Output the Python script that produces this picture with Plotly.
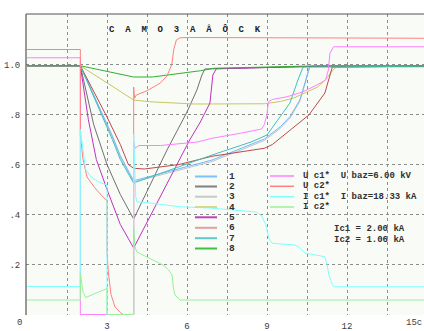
import plotly.graph_objects as go

# ---------------- data (time in s, values in p.u.) ----------------
t1 = [0, 2, 3.2, 3.5, 4, 6.94, 8.9, 9.5, 9.86, 10.23, 10.42, 10.6, 14.9]
v1 = [0.995, 0.995, 0.715, 0.635, 0.535, 0.618, 0.702, 0.751, 0.791, 0.858, 0.926, 0.993, 0.993]

t2 = [0, 2, 2.5, 3.0, 3.5, 4, 5.25, 6.0, 6.37, 6.56, 6.67, 9.0, 11, 14.9]
v2 = [0.995, 0.995, 0.76, 0.6, 0.48, 0.382, 0.658, 0.81, 0.898, 0.958, 0.982, 0.988, 0.993, 0.993]

t3 = [0, 2, 3.2, 3.5, 4, 6.94, 8.9, 9.5, 9.86, 10.23, 10.42, 10.6, 14.9]
v3 = [0.995, 0.995, 0.71, 0.63, 0.53, 0.612, 0.696, 0.745, 0.785, 0.852, 0.92, 0.99, 0.99]

t4 = [0, 2, 4, 4.6, 6.3, 8.9, 9.5, 10.0, 10.5, 10.9, 11.2, 11.45, 11.6, 14.9]
v4 = [0.995, 0.995, 0.858, 0.851, 0.842, 0.843, 0.852, 0.866, 0.89, 0.91, 0.94, 0.975, 0.99, 0.993]

t5 = [0, 2, 2.3, 2.6, 3.0, 3.5, 4, 6.1, 6.5, 6.86, 6.97, 7.1, 9.0, 11, 14.9]
v5 = [0.995, 0.995, 0.78, 0.62, 0.5, 0.36, 0.266, 0.698, 0.77, 0.846, 0.958, 0.983, 0.988, 0.993, 0.993]

t6 = [0, 2, 3, 3.5, 3.8, 4, 4.4, 5.7, 6.94, 8.9, 9.2, 9.95, 10.57, 11.17, 11.36, 11.45, 14.9]
v6 = [0.995, 0.995, 0.79, 0.68, 0.6, 0.585, 0.582, 0.6, 0.633, 0.665, 0.68, 0.746, 0.798, 0.886, 0.95, 0.99, 0.993]

t7 = [0, 2, 3.2, 3.5, 4, 4.1, 6.94, 8.4, 9.0, 9.5, 9.86, 10.16, 10.35, 14.9]
v7 = [0.995, 0.995, 0.70, 0.62, 0.525, 0.53, 0.638, 0.69, 0.718, 0.791, 0.846, 0.938, 0.99, 0.993]

t8 = [0, 2, 4, 4.7, 6.5, 7.0, 9.0, 11, 14.9]
v8 = [0.995, 0.995, 0.95, 0.95, 0.975, 0.985, 0.99, 0.995, 0.995]

t_uc1 = [0, 2, 2, 4, 4, 4.05, 4.2, 5.0, 6.4, 6.94, 8.0, 8.8, 8.9, 9.0, 9.05, 9.2, 9.75, 10.35, 10.87, 11.2, 11.3, 11.36, 11.5, 14.9]
v_uc1 = [1.027, 1.027, 0, 0, 0.69, 0.665, 0.676, 0.676, 0.69, 0.705, 0.725, 0.742, 0.76, 0.80, 0.85, 0.86, 0.871, 0.891, 0.918, 0.938, 0.978, 1.045, 1.071, 1.071]

t_uc2 = [0, 2, 2, 2.1, 2.25, 2.55, 2.85, 3.0, 3.0, 3.05, 3.15, 3.3, 3.5, 3.6, 4.0, 4.0, 4.03, 4.1, 4.5, 5.0, 5.25, 5.43, 5.5, 5.6, 5.74, 6.1, 14.9]
v_uc2 = [1.06, 1.06, 0.72, 0.62, 0.55, 0.506, 0.47, 0.455, 0.25, 0.17, 0.08, 0.03, 0.008, 0, 0, 0.91, 0.865, 0.878, 0.895, 0.926, 0.955, 1.0, 1.058, 1.098, 1.107, 1.108, 1.105]

t_ic1 = [0, 2, 2, 2.05, 2.1, 2.2, 2.4, 2.7, 3.0, 3.0, 4.0, 4.0, 4.08, 4.12, 4.6, 5.74, 6.86, 7.6, 8.6, 8.8, 8.95, 9.07, 9.19, 10.05, 10.25, 10.42, 11.17, 11.25, 11.32, 11.45, 11.51, 14.9]
v_ic1 = [0.112, 0.112, 0.74, 0.70, 0.64, 0.58, 0.55, 0.53, 0.518, 0, 0, 0.72, 0.47, 0.451, 0.446, 0.431, 0.426, 0.418, 0.41, 0.395, 0.36, 0.305, 0.285, 0.278, 0.265, 0.246, 0.231, 0.2, 0.158, 0.12, 0.111, 0.111]

t_ic2 = [0, 2, 2, 2.1, 2.2, 2.3, 2.6, 2.95, 3.0, 3.0, 4.0, 4.0, 4.05, 4.12, 4.35, 4.72, 5.1, 5.3, 5.44, 5.5, 5.55, 5.74, 14.9]
v_ic2 = [0.058, 0.058, 0.165, 0.09, 0.068, 0.072, 0.086, 0.102, 0.107, 0, 0, 0.35, 0.27, 0.25, 0.238, 0.218, 0.198, 0.18, 0.158, 0.1, 0.078, 0.058, 0.058]

legend_names = ["1", "2", "3", "4", "5", "6", "7", "8"]
legend2_names = ["U c1*  U baz=6.00 kV", "U c2*", "I c1*  I baz=18.33 kA", "I c2*"]
notes = ["Ic1 = 2.00 kA", "Ic2 = 1.06 kA"]
title_text = "C  A  M  O  3  A  Â  Ô  C  K"
x_tickvals = [1.5, 3, 4.5, 6, 7.5, 9, 10.5, 12, 13.5]
x_ticktext = ["", "3", "", "6", "", "9", "", "12", ""]
y_tickvals = [0, 0.2, 0.4, 0.6, 0.8, 1.0]
y_ticktext = ["", ".2", ".4", ".6", ".8", "1.0"]

# ---------------- styles ----------------
W, H = 424, 331
ML, MR, MT, MB = 26, 0, 14, 16
PW, PH = W - ML - MR, H - MT - MB


def px(x):
    return (x - ML) / PW


def py(y):
    return (H - MB - y) / PH


curve_colors = ["#70b8ff", "#707070", "#c4c4c4", "#c8c860", "#c030c0", "#c04848", "#40c0c0", "#30b030"]
legend_colors = ["#80c0ff", "#808080", "#c8c8c8", "#d8d890", "#c040c0", "#e0a0a0", "#60c8c8", "#40c040"]
uc_colors = ["#ff80ff", "#ff8080", "#80ffff", "#98f098"]
FONT = "Liberation Mono, DejaVu Sans Mono, monospace"

fig = go.Figure()

series = [(t3, v3, 2), (t1, v1, 0), (t2, v2, 1), (t4, v4, 3), (t5, v5, 4), (t6, v6, 5), (t7, v7, 6), (t8, v8, 7)]
for tt, vv, i in series:
    fig.add_trace(go.Scatter(x=tt, y=vv, mode="lines", line=dict(color=curve_colors[i], width=1),
                             name=legend_names[i], showlegend=False, hoverinfo="skip"))

for tt, vv, c, n in [(t_uc1, v_uc1, uc_colors[0], legend2_names[0]),
                     (t_uc2, v_uc2, uc_colors[1], legend2_names[1]),
                     (t_ic1, v_ic1, uc_colors[2], legend2_names[2]),
                     (t_ic2, v_ic2, uc_colors[3], legend2_names[3])]:
    fig.add_trace(go.Scatter(x=tt, y=vv, mode="lines", line=dict(color=c, width=1),
                             name=n, showlegend=False, hoverinfo="skip"))

shapes = []
annotations = []

# borders (top and left)
shapes.append(dict(type="line", xref="paper", yref="paper", x0=0, x1=1, y0=1, y1=1,
                   line=dict(color="#555555", width=1.2)))
shapes.append(dict(type="line", xref="paper", yref="paper", x0=0, x1=0, y0=0, y1=1,
                   line=dict(color="#555555", width=1.2)))

# legend 1
rows1 = [176.5, 186.5, 196.7, 207, 217.3, 227.8, 238.2, 248.5]
for i, yy in enumerate(rows1):
    shapes.append(dict(type="line", xref="paper", yref="paper", x0=px(195), x1=px(217), y0=py(yy), y1=py(yy),
                       line=dict(color=legend_colors[i], width=2)))
    annotations.append(dict(xref="paper", yref="paper", x=px(227), y=py(yy), text=legend_names[i],
                            showarrow=False, xanchor="left", yanchor="middle",
                            font=dict(family=FONT, size=9.5, color="#303030", weight="bold")))

# legend 2
rows2 = [176, 186.3, 196.7, 207]
for i, yy in enumerate(rows2):
    shapes.append(dict(type="line", xref="paper", yref="paper", x0=px(270), x1=px(294), y0=py(yy), y1=py(yy),
                       line=dict(color=uc_colors[i], width=1.5)))
    annotations.append(dict(xref="paper", yref="paper", x=px(301), y=py(yy), text=legend2_names[i].replace(" ", "&nbsp;"),
                            showarrow=False, xanchor="left", yanchor="middle",
                            font=dict(family=FONT, size=9, color="#303030", weight="bold")))

for i, (txt, yy) in enumerate(zip(notes, [229, 239.5])):
    annotations.append(dict(xref="paper", yref="paper", x=px(332), y=py(yy), text=txt.replace(" ", "&nbsp;"),
                            showarrow=False, xanchor="left", yanchor="middle",
                            font=dict(family=FONT, size=9, color="#303030", weight="bold")))

# title
annotations.append(dict(xref="paper", yref="paper", x=px(184.5), y=py(29), text=title_text.replace(" ", "&nbsp;"),
                        showarrow=False, xanchor="center", yanchor="middle",
                        font=dict(family=FONT, size=9, color="#202020", weight="bold")))

# extra x labels
annotations.append(dict(xref="paper", yref="paper", x=px(19), y=py(323), text="0", showarrow=False,
                        xanchor="center", yanchor="middle", font=dict(family=FONT, size=9, color="#404040")))
annotations.append(dict(xref="paper", yref="paper", x=px(414), y=py(323), text="15c", showarrow=False,
                        xanchor="center", yanchor="middle", font=dict(family=FONT, size=9, color="#404040")))

fig.update_layout(
    width=W, height=H,
    margin=dict(l=ML, r=MR, t=MT, b=MB, pad=0),
    paper_bgcolor="white",
    plot_bgcolor="#f9fbf7",
    showlegend=False,
    shapes=shapes,
    annotations=annotations,
    xaxis=dict(range=[-0.0375, 14.8875], tickvals=x_tickvals, ticktext=x_ticktext,
               showgrid=True, gridcolor="#8c8c8c", griddash="dot", gridwidth=1,
               zeroline=False, showline=False, ticks="outside", ticklen=2, tickcolor="rgba(0,0,0,0)",
               tickfont=dict(family=FONT, size=9, color="#404040")),
    yaxis=dict(range=[-0.002, 1.202], tickvals=y_tickvals, ticktext=y_ticktext,
               showgrid=True, gridcolor="#8c8c8c", griddash="dot", gridwidth=1,
               zeroline=False, showline=False, ticks="outside", ticklen=3, tickcolor="rgba(0,0,0,0)",
               tickfont=dict(family=FONT, size=9, color="#404040")),
)

fig.write_html("out.html", config={"displayModeBar": False},
               post_script="document.body.style.margin='0';document.body.style.overflow='hidden';")
